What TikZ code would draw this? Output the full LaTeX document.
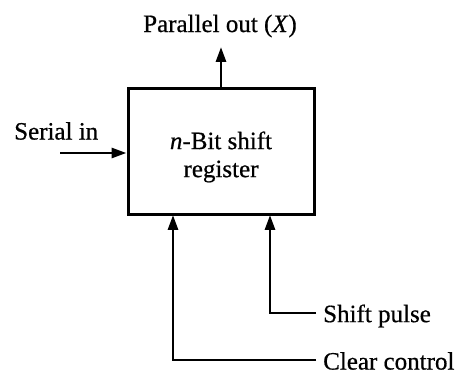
\documentclass[tikz,border=0pt]{standalone}
\usepackage{fontspec}
\setmainfont{Liberation Serif}[FakeBold=0.6]
\usetikzlibrary{arrows.meta}
\begin{document}
\begin{tikzpicture}[x=1pt,y=-1pt,
  every node/.style={font=\fontsize{25}{30}\selectfont},
  wire/.style={line width=2.9pt},
  sig/.style={wire,-{Triangle[length=15pt,width=10pt]}},
  lbl/.style={inner sep=0pt}]
\useasboundingbox (0,0) rectangle (458,374);
% register block
\node[draw,line width=3pt,minimum width=186pt,minimum height=126pt,
      inner sep=0pt] (reg) at (221,152) {};
\node[lbl,align=center] (regtxt) at (221,157)
  {\textit{n}-Bit shift\\[-2pt]register};
% labels
\node[lbl] (pout) at (220,26) {Parallel out (\textit{X})};
\node[lbl,anchor=west] (sin) at (14,131) {Serial in};
\node[lbl,anchor=west] (spl) at (323,316) {Shift pulse};
\node[lbl,anchor=west] (clr) at (323,361) {Clear control};
% connector end points
\coordinate (ptip) at (221,47);
\coordinate (sstart) at (60,153);
\coordinate (spin) at (270,215);
\coordinate (clin) at (173,215);
\coordinate (spend) at (316,313);
\coordinate (clend) at (316,360);
% connectors
\draw[sig] (reg.north -| ptip) -- (ptip);
\draw[sig] (sstart) -- (sstart -| reg.west);
\draw[sig] (spend) -| (spin);
\draw[sig] (clend) -| (clin);
\end{tikzpicture}
\end{document}
